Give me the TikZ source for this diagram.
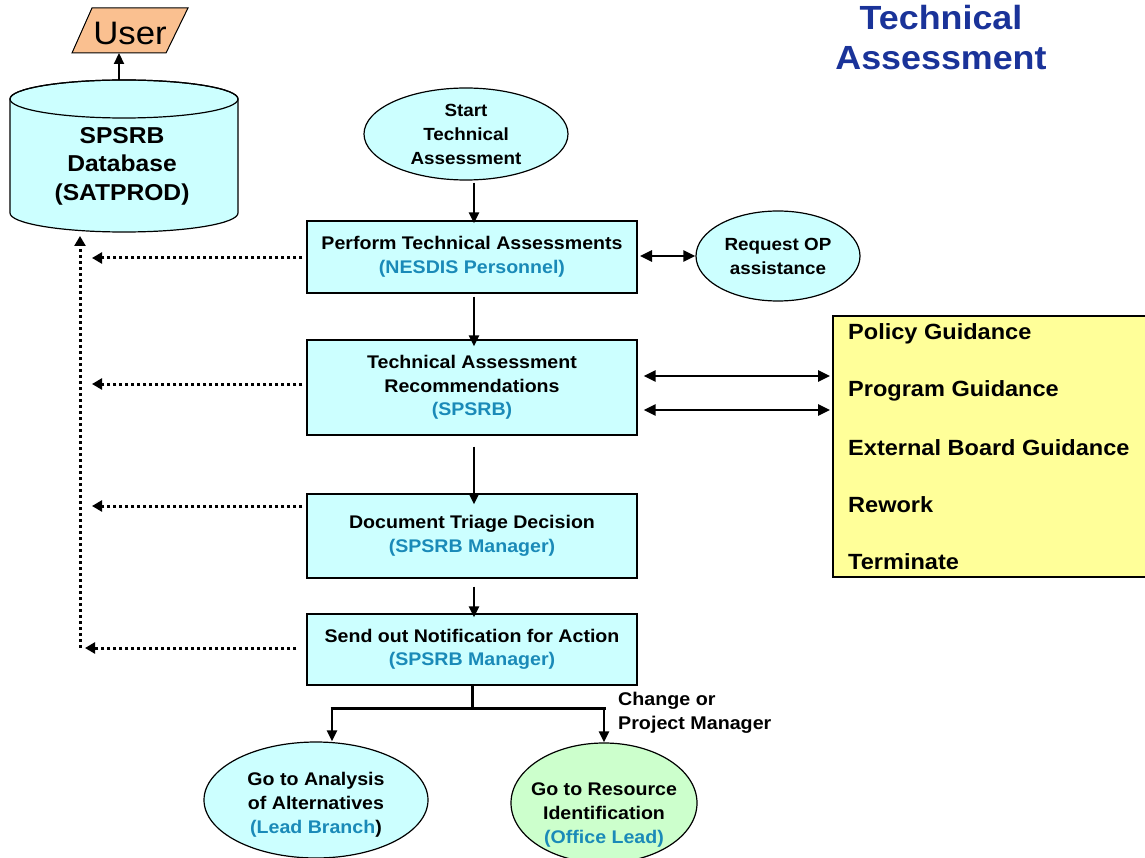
\documentclass[tikz,border=0pt]{standalone}
\usepackage{fontspec}
\setmainfont[FakeStretch=1.07]{Liberation Sans}
\usetikzlibrary{arrows.meta,shapes.geometric}
\definecolor{boxfill}{HTML}{CCFFFF}
\definecolor{yel}{HTML}{FFFF99}
\definecolor{grn}{HTML}{CCFFCC}
\definecolor{org}{HTML}{FAC090}
\definecolor{tealtxt}{HTML}{1A8AB8}
\definecolor{navy}{HTML}{1A3399}
\begin{document}
\begin{tikzpicture}[x=1pt,y=-1pt,
  box/.style={draw=black,line width=1.2pt,fill=boxfill,minimum width=330pt,align=center,
    font=\fontsize{18.3}{23.5}\selectfont\bfseries,inner sep=0pt},
  ovalshape/.style={ellipse,draw=black,line width=1.2pt,fill=boxfill,inner sep=0pt},
  txt/.style={align=center,font=\fontsize{18.3}{24}\selectfont\bfseries,inner sep=0pt},
  stxt/.style={align=center,font=\fontsize{17.6}{24}\selectfont\bfseries,inner sep=0pt},
  guid/.style={anchor=west,font=\fontsize{22}{24}\selectfont\bfseries,inner sep=0pt},
  arr/.style={line width=2.2pt,-{Triangle[length=11pt,width=10pt]}},
  darr/.style={line width=2.6pt,{Triangle[length=12pt,width=11pt]}-{Triangle[length=12pt,width=11pt]}},
  dotarr/.style={line width=3pt,dash pattern=on 3pt off 3pt,-{Triangle[length=10pt,width=11pt]}},
]
\useasboundingbox (0,0) rectangle (1145,858);

% title
\node[txt,font=\fontsize{33.5}{40}\selectfont\bfseries,text=navy] (title) at (941,38) {Technical\\Assessment};

% user parallelogram
\filldraw[fill=org,draw=black,line width=1pt] (92,8) -- (188,8) -- (166,53) -- (72,53) -- cycle;
\node[inner sep=0pt,font=\fontsize{32.5}{32}\selectfont] (user) at (130,33) {User};
\coordinate (userbot) at (119,53);

% database cylinder
\filldraw[fill=boxfill,draw=black,line width=1.2pt] (10,99) -- (10,213) arc[start angle=180,end angle=360,x radius=114,y radius=-19] -- (238,99) arc[start angle=0,end angle=180,x radius=114,y radius=-19] -- cycle;
\draw[line width=1.2pt] (124,99) ellipse[x radius=114,y radius=19];
\node[txt,font=\fontsize{23}{28.5}\selectfont\bfseries] (db) at (122,166) {SPSRB\\Database\\(SATPROD)};
\coordinate (dbtop) at (119,80);
\coordinate (dbbot) at (80,236);
\draw[arr] (dbtop) -- (userbot);

% start ellipse
\node[ovalshape,minimum width=204pt,minimum height=92pt] (start) at (466,134) {};
\node[stxt] at (start) {Start\\Technical\\Assessment};

% boxes
\node[box,minimum height=72pt] (b1) at (472,257) {Perform Technical Assessments\\\textcolor{tealtxt}{(NESDIS Personnel)}};
\node[box,minimum height=95pt] (b2) at (472,387.5) {Technical Assessment\\Recommendations\\\textcolor{tealtxt}{(SPSRB)}};
\node[box,minimum height=84pt] (b3) at (472,536) {Document Triage Decision\\\textcolor{tealtxt}{(SPSRB Manager)}};
\node[box,minimum height=71pt] (b4) at (472,649.5) {Send out Notification for Action\\\textcolor{tealtxt}{(SPSRB Manager)}};

% request OP
\node[ovalshape,minimum width=164pt,minimum height=90pt] (req) at (778,256) {};
\node[stxt] at (req) {Request OP\\assistance};
\coordinate (rq) at (640,256);

% yellow guidance box
\filldraw[fill=yel,draw=black,line width=1.2pt] (833,316) rectangle (1148,577);
\node[guid] (g1) at (848,334) {Policy Guidance};
\node[guid] (g2) at (848,391) {Program Guidance};
\node[guid] (g3) at (848,448) {External Board Guidance};
\node[guid] (g4) at (848,505) {Rework};
\node[guid] (g5) at (848,562) {Terminate};
\coordinate (ya) at (830,376);
\coordinate (yb) at (830,410);

% bottom ellipses
\node[ovalshape,minimum width=224pt,minimum height=116pt] (aoa) at (316,800) {};
\node[txt] at (316,805) {Go to Analysis\\of Alternatives\\\textcolor{tealtxt}{(Lead Branch})};
\node[ovalshape,fill=grn,minimum width=186pt,minimum height=120pt] (res) at (604,803) {};
\node[txt] at (604,815) {Go to Resource\\Identification\\\textcolor{tealtxt}{(Office Lead)}};

% vertical flow arrows
\draw[arr] ([xshift=8pt,yshift=-2pt]start.south) -- ([xshift=2pt,yshift=-3pt]b1.north);
\draw[arr] ([xshift=2pt,yshift=-3pt]b1.south) -- ([xshift=2pt,yshift=-7pt]b2.north);
\draw[arr] ([xshift=2pt,yshift=-11pt]b2.south) -- ([xshift=2pt,yshift=-11pt]b3.north);
\draw[arr] ([xshift=2pt,yshift=-8pt]b3.south) -- ([xshift=2pt,yshift=-4pt]b4.north);

% double arrows
\draw[darr] (rq) -- (req.west |- rq);
\draw[darr] ([xshift=6pt]b2.east |- ya) -- (ya);
\draw[darr] ([xshift=6pt]b2.east |- yb) -- (yb);

% dotted arrows to database
\coordinate (d1) at (92,258);
\coordinate (d2) at (92,384);
\coordinate (d3) at (92,506);
\coordinate (d4) at (85,648);
\coordinate (dcorner) at (80,648);
\draw[dotarr] ([xshift=-4pt]b1.west |- d1) -- (d1);
\draw[dotarr] ([xshift=-4pt]b2.west |- d2) -- (d2);
\draw[dotarr] ([xshift=-4pt]b3.west |- d3) -- (d3);
\draw[dotarr] ([xshift=-10pt]b4.west |- d4) -- (d4);
\draw[dotarr] (dcorner) -- (dbbot);

% branch
\coordinate (bj) at (472,708);
\coordinate (bl) at (332,708);
\coordinate (br) at (604,708);
\draw[line width=3pt] (b4.south) -- (bj);
\draw[line width=3pt] ([xshift=-1.5pt]bl) -- ([xshift=1.5pt]br);
\draw[arr,line width=2.6pt] (bl) -- ([xshift=16pt]aoa.north);
\draw[arr,line width=2.6pt] (br) -- (res.north);
\node[txt,align=left,anchor=north west,font=\fontsize{18.4}{24}\selectfont\bfseries] (lbl) at (618,692) {Change or\\Project Manager};
\end{tikzpicture}
\end{document}
